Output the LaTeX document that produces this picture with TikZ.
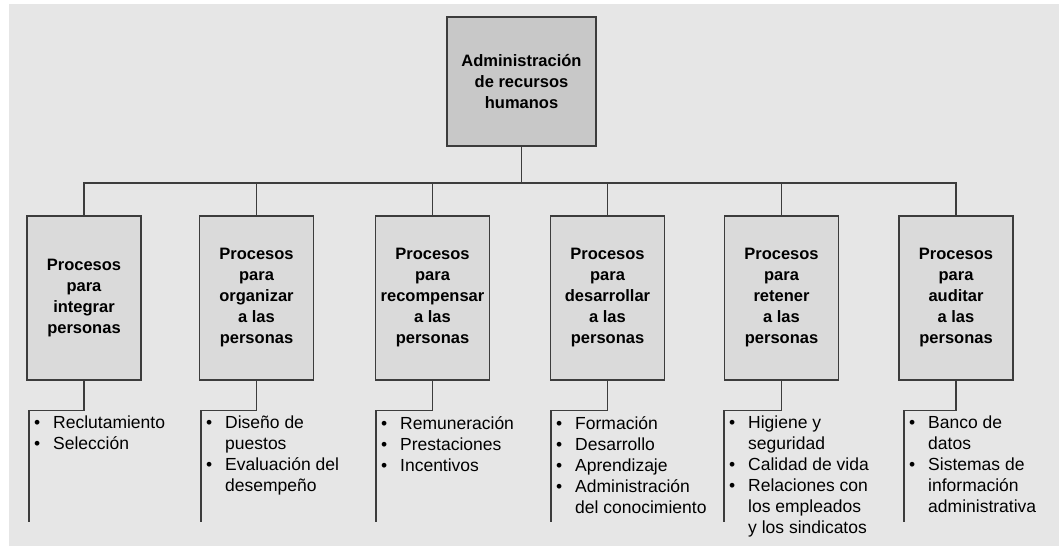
\documentclass[tikz,border=0pt]{standalone}
\usepackage{fontspec}
\setmainfont{Liberation Sans}
\definecolor{bggray}{HTML}{E6E6E6}
\definecolor{rootgray}{HTML}{C8C8C8}
\definecolor{procgray}{HTML}{DADADA}
\definecolor{linegray}{HTML}{3C3C3C}
\newcommand{\itm}{\makebox[19pt][l]{\textbullet}}
\newcommand{\cnt}{\hspace*{19pt}}
\begin{document}
\begin{tikzpicture}[x=1pt,y=-1pt,
  boxroot/.style={draw=linegray, line width=1.2pt, fill=rootgray, minimum width=149pt, minimum height=129pt, inner sep=0pt, align=center, font=\fontsize{16.5}{21}\selectfont\bfseries},
  boxproc/.style={draw=linegray, line width=1.2pt, fill=procgray, minimum width=114pt, minimum height=164pt, inner sep=0pt, align=center, font=\fontsize{16.5}{21}\selectfont\bfseries},
  itemlist/.style={anchor=north west, inner sep=0pt, align=left, font=\fontsize{17.5}{21}\selectfont},
  link/.style={draw=linegray, line width=1.2pt}]
\useasboundingbox (0,0) rectangle (1059,546);
\fill[bggray] (9,4) rectangle (1059,546);

\node[boxroot] (root) at (521.5,81.5) {Administración\\de recursos\\humanos};

\node[boxproc] (integrar) at (84,298) {Procesos\\para\\integrar\\personas};
\node[boxproc] (organizar) at (256.5,298) {Procesos\\para\\organizar\\a las\\personas};
\node[boxproc] (recompensar) at (432.5,298) {Procesos\\para\\recompensar\\a las\\personas};
\node[boxproc] (desarrollar) at (607.5,298) {Procesos\\para\\desarrollar\\a las\\personas};
\node[boxproc] (retener) at (781.5,298) {Procesos\\para\\retener\\a las\\personas};
\node[boxproc] (auditar) at (956,298) {Procesos\\para\\auditar\\a las\\personas};

\node[itemlist] (lintegrar) at (34,416) {\itm Reclutamiento\\\itm Selección};
\node[itemlist] (lorganizar) at (206,416) {\itm Diseño de\\\cnt puestos\\\itm Evaluación del\\\cnt desempeño};
\node[itemlist] (lrecompensar) at (381,416) {\itm Remuneración\\\itm Prestaciones\\\itm Incentivos};
\node[itemlist] (ldesarrollar) at (556,416) {\itm Formación\\\itm Desarrollo\\\itm Aprendizaje\\\itm Administración\\\cnt del conocimiento};
\node[itemlist] (lretener) at (729,416) {\itm Higiene y\\\cnt seguridad\\\itm Calidad de vida\\\itm Relaciones con\\\cnt los empleados\\\cnt y los sindicatos};
\node[itemlist] (lauditar) at (909,416) {\itm Banco de\\\cnt datos\\\itm Sistemas de\\\cnt información\\\cnt administrativa};

\coordinate (eintegrar) at (29,522);
\coordinate (eorganizar) at (201,522);
\coordinate (erecompensar) at (376,522);
\coordinate (edesarrollar) at (551,522);
\coordinate (eretener) at (724,522);
\coordinate (eauditar) at (904,522);

% arbol
\path[link] (root.south) -- (root.south |- 0,183);
\path[link] (integrar.north) |- (auditar.north |- 0,183) -- (auditar.north);
\path[link] (organizar.north) -- (organizar.north |- 0,183);
\path[link] (recompensar.north) -- (recompensar.north |- 0,183);
\path[link] (desarrollar.north) -- (desarrollar.north |- 0,183);
\path[link] (retener.north) -- (retener.north |- 0,183);

% listas
\path[link] (integrar.south) -- ++(0,30) -| (eintegrar);
\path[link] (organizar.south) -- ++(0,30) -| (eorganizar);
\path[link] (recompensar.south) -- ++(0,30) -| (erecompensar);
\path[link] (desarrollar.south) -- ++(0,30) -| (edesarrollar);
\path[link] (retener.south) -- ++(0,30) -| (eretener);
\path[link] (auditar.south) -- ++(0,30) -| (eauditar);
\end{tikzpicture}
\end{document}
